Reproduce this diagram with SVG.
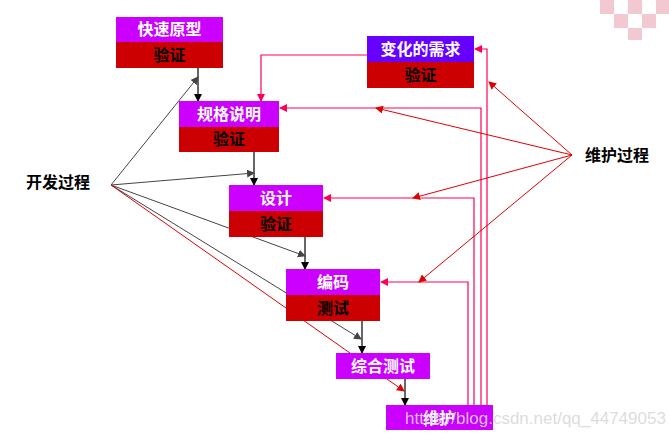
<svg xmlns="http://www.w3.org/2000/svg" width="669" height="437" viewBox="0 0 669 437">
<style>
.p{fill:#cc00ff}.r{fill:#cc0000}.v{fill:#6600ff}
.w{fill:#fff;font:bold 16px "Noto Sans CJK SC",sans-serif;text-anchor:middle}
.b{fill:#000;font:bold 16px "Noto Sans CJK SC",sans-serif;text-anchor:middle}
.k{stroke:#000;stroke-width:1.2;fill:none}
.g{stroke:#444;stroke-width:1;fill:none}
.d{stroke:#e00000;stroke-width:1;fill:none}
.m{stroke:#ff0055;stroke-width:1.2;fill:none}
</style>
<defs>
<marker id="ak" markerWidth="8" markerHeight="8" refX="7" refY="4" orient="auto" markerUnits="userSpaceOnUse"><path d="M0,0L8,4L0,8z" fill="#000"/></marker>
<marker id="ag" markerWidth="8" markerHeight="8" refX="7" refY="4" orient="auto" markerUnits="userSpaceOnUse"><path d="M0,0L8,4L0,8z" fill="#444"/></marker>
<marker id="ad" markerWidth="8" markerHeight="8" refX="7" refY="4" orient="auto" markerUnits="userSpaceOnUse"><path d="M0,0L8,4L0,8z" fill="#e00000"/></marker>
<marker id="am" markerWidth="8" markerHeight="8" refX="7" refY="4" orient="auto" markerUnits="userSpaceOnUse"><path d="M0,0L8,4L0,8z" fill="#ff0055"/></marker>
</defs>
<rect width="669" height="437" fill="#fff"/>
<g fill="#f4c8d0"><rect x="600" y="0" width="14" height="14"/><rect x="628" y="0" width="14" height="14"/><rect x="614" y="14" width="14" height="14"/><rect x="642" y="14" width="14" height="14"/><rect x="656" y="0" width="13" height="14"/><rect x="628" y="28" width="14" height="12"/></g>
<g id="connectors">
<path class="k" d="M198,68V101" marker-end="url(#ak)"/>
<path class="k" d="M254,152V185" marker-end="url(#ak)"/>
<path class="k" d="M305,237V269" marker-end="url(#ak)"/>
<path class="k" d="M362,321V353" marker-end="url(#ak)"/>
<path class="k" d="M405,379V405" marker-end="url(#ak)"/>
<path class="g" d="M111,185L198,77" marker-end="url(#ag)"/>
<path class="g" d="M111,185L254,173" marker-end="url(#ag)"/>
<path class="g" d="M111,185L305,256" marker-end="url(#ag)"/>
<path class="g" d="M111,185L361,339" marker-end="url(#ag)"/>
<path class="d" d="M111,185L404,391" marker-end="url(#ad)"/>
<path class="m" d="M367,55H261V101" marker-end="url(#am)"/>
<path class="m" d="M468,405V282H381" marker-end="url(#am)"/>
<path class="m" d="M474,405V198H324" marker-end="url(#am)"/>
<path class="m" d="M481,405V108H280" marker-end="url(#am)"/>
<path class="m" d="M487,405V49H475" marker-end="url(#am)"/>
<path class="d" d="M572,155L489,82" marker-end="url(#ad)"/>
<path class="d" d="M572,155L376,108" marker-end="url(#ad)"/>
<path class="d" d="M572,155L413,198" marker-end="url(#ad)"/>
<path class="d" d="M572,155L419,282" marker-end="url(#ad)"/>
</g>
<g id="n1"><rect class="p" x="116" y="17" width="107" height="25"/><rect class="r" x="116" y="42" width="107" height="26"/><text class="w" x="169.5" y="35">快速原型</text><text class="b" x="169.5" y="61">验证</text></g>
<g id="n2"><rect class="v" x="367" y="36" width="107" height="26"/><rect class="r" x="367" y="62" width="107" height="26"/><text class="w" x="420.5" y="55">变化的需求</text><text class="b" x="420.5" y="81">验证</text></g>
<g id="n3"><rect class="p" x="179" y="101" width="100" height="26"/><rect class="r" x="179" y="127" width="100" height="25"/><text class="w" x="229" y="120">规格说明</text><text class="b" x="229" y="145">验证</text></g>
<g id="n4"><rect class="p" x="229" y="185" width="94" height="26"/><rect class="r" x="229" y="211" width="94" height="26"/><text class="w" x="276" y="204">设计</text><text class="b" x="276" y="230">验证</text></g>
<g id="n5"><rect class="p" x="286" y="269" width="94" height="26"/><rect class="r" x="286" y="295" width="94" height="26"/><text class="w" x="333" y="288">编码</text><text class="b" x="333" y="314">测试</text></g>
<g id="n6"><rect class="p" x="336" y="353" width="94" height="26"/><text class="w" x="383" y="372">综合测试</text></g>
<g id="n7"><rect class="p" x="386" y="405" width="107" height="25"/><text class="w" x="439" y="424">维护</text></g>
<text class="b" x="58" y="188">开发过程</text>
<text class="b" x="617" y="161">维护过程</text>
<text x="405" y="424" fill="#d8d8d8" fill-opacity="0.9" font-family="Liberation Sans,sans-serif" font-size="17">https://blog.csdn.net/qq_44749053</text>
</svg>
